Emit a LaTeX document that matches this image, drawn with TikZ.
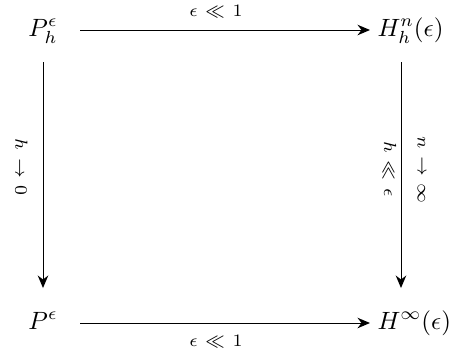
\documentclass[tikz,border=0pt]{standalone}
\usetikzlibrary{arrows.meta}
\newcommand{\lblsp}{\kern3pt}
\begin{document}
\begin{tikzpicture}[x=0.4pt,y=-0.4pt,
  obj/.style={inner sep=0pt,anchor=base west},
  arr/.style={line width=0.4pt,-{Stealth[length=5pt,width=4.2pt,inset=1.6pt]}},
  lbl/.style={inner sep=0pt}]
\useasboundingbox (0,0) rectangle (454,356);
\node[obj] (A) at (28,36) {$P_h^\epsilon$};
\node[obj] (B) at (377,36) {$H_h^n(\epsilon)$};
\node[obj] (C) at (28,329) {$P^\epsilon$};
\node[obj] (D) at (377,329) {$H^\infty(\epsilon)$};
% top
\draw[arr] ([xshift=20.8pt,yshift=2.4pt]A.base west) -- ([xshift=-2.8pt,yshift=2.4pt]B.base west)
  node[lbl,pos=0.469,anchor=base,yshift=5.6pt] (t) {$\scriptstyle\epsilon\lblsp\ll\lblsp 1$};
% bottom
\draw[arr] ([xshift=20.8pt,yshift=2.4pt]C.base west) -- ([xshift=-2.8pt,yshift=2.4pt]D.base west)
  node[lbl,pos=0.469,anchor=base,yshift=-9.2pt] (b) {$\scriptstyle\epsilon\lblsp\ll\lblsp 1$};
% left
\draw[arr] ([xshift=6pt,yshift=-10.4pt]A.base west) -- ([xshift=6pt,yshift=16.4pt]C.base west)
  node[lbl,pos=0.465,xshift=-8.6pt,rotate=-90] (l) {$\scriptstyle h\lblsp\to\lblsp 0$};
% right
\draw[arr] ([xshift=9.6pt,yshift=-10.4pt]B.base west) -- ([xshift=9.6pt,yshift=16.4pt]D.base west)
  node[lbl,pos=0.473,xshift=-4.6pt,rotate=-90] (r1) {$\scriptstyle h\lblsp\ll\lblsp\epsilon$}
  node[lbl,pos=0.478,xshift=8.2pt,rotate=-90] (r2) {$\scriptstyle n\lblsp\to\lblsp\infty$};
\end{tikzpicture}
\end{document}
